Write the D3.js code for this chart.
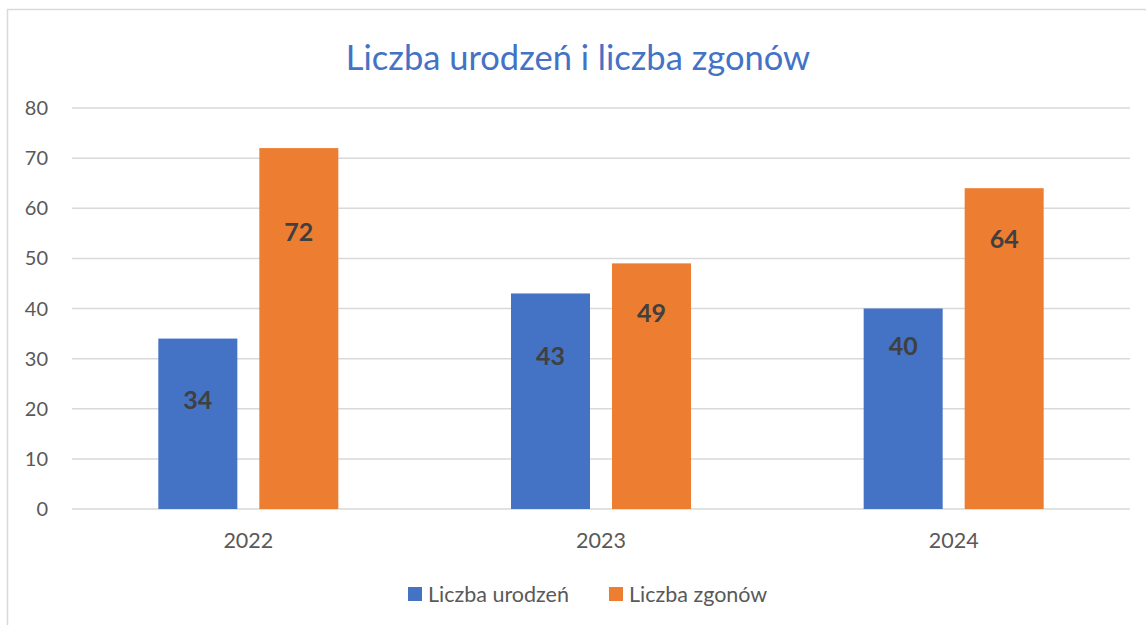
<html>
<head>
<meta charset="utf-8">
<script src="https://d3js.org/d3.v7.min.js"></script>
<style>
body { margin: 0; background: #fff; }
text { font-family: Lato, "Open Sans", sans-serif; }
</style>
</head>
<body>
<svg width="1146" height="625"></svg>
<script>
// chart data
var years = ["2022", "2023", "2024"];
var births = [34, 43, 40];
var deaths = [72, 49, 64];
// where the (hand-moved) data labels sit, in axis units
var birthsLabelAt = [21.6, 30.4, 32.4];
var deathsLabelAt = [55.3, 39.1, 53.8];
var seriesNames = ["Liczba urodzeń", "Liczba zgonów"];
var seriesColors = ["#4472C4", "#ED7D31"];
var yTicks = [0, 10, 20, 30, 40, 50, 60, 70, 80];

var svg = d3.select("svg");
var plotL = 72, plotR = 1130, plotT = 108, plotB = 509;

// outer frame (cut off on right and bottom)
svg.append("path")
   .attr("d", "M7.5,625 L7.5,9.5 L1146,9.5")
   .attr("fill", "none")
   .attr("stroke", "#d9d9d9")
   .attr("stroke-width", 1.5);

svg.append("text")
   .attr("x", 578).attr("y", 70)
   .attr("text-anchor", "middle")
   .style("font-size", "34.5px")
   .style("fill", "#4472C4")
   .text("Liczba urodzeń i liczba zgonów");

var x = d3.scaleBand().domain(years).range([plotL, plotR]);
var y = d3.scaleLinear().domain([0, 80]).range([plotB, plotT]);

// gridlines
svg.append("g").selectAll("line")
   .data(yTicks).enter().append("line")
   .attr("x1", plotL).attr("x2", plotR)
   .attr("y1", function(d) { return y(d); })
   .attr("y2", function(d) { return y(d); })
   .attr("stroke", "#d9d9d9")
   .attr("stroke-width", 1.5);

svg.append("g").selectAll("text")
   .data(yTicks).enter().append("text")
   .attr("x", 48)
   .attr("y", function(d) { return y(d); })
   .attr("dy", "0.35em")
   .attr("text-anchor", "end")
   .style("font-size", "20px")
   .style("fill", "#595959")
   .text(function(d) { return d; });

svg.append("g").selectAll("text")
   .data(years).enter().append("text")
   .attr("x", function(d) { return x(d) + x.bandwidth() / 2; })
   .attr("y", 548)
   .attr("text-anchor", "middle")
   .style("font-size", "21.5px")
   .style("fill", "#595959")
   .text(function(d) { return d; });

var barW = 79, gap = 22;
var series = [births, deaths];
var labelAt = [birthsLabelAt, deathsLabelAt];

series.forEach(function(vals, s) {
  var g = svg.append("g");
  var off = s == 0 ? -(gap / 2 + barW) : gap / 2;
  g.selectAll("rect")
   .data(vals).enter().append("rect")
   .attr("x", function(d, i) { return x(years[i]) + x.bandwidth() / 2 + off; })
   .attr("width", barW)
   .attr("y", function(d) { return y(d); })
   .attr("height", function(d) { return y(0) - y(d); })
   .attr("fill", seriesColors[s]);
  g.selectAll("text")
   .data(vals).enter().append("text")
   .attr("x", function(d, i) { return x(years[i]) + x.bandwidth() / 2 + off + barW / 2; })
   .attr("y", function(d, i) { return y(labelAt[s][i]); })
   .attr("dy", "0.35em")
   .attr("text-anchor", "middle")
   .style("font-size", "25px")
   .style("font-weight", "bold")
   .style("fill", "#404040")
   .text(function(d) { return d; });
});

// legend
var legX = [408, 609];
seriesNames.forEach(function(n, i) {
  svg.append("rect")
     .attr("x", legX[i]).attr("y", 587)
     .attr("width", 14).attr("height", 14)
     .attr("fill", seriesColors[i]);
  svg.append("text")
     .attr("x", legX[i] + 20).attr("y", 594)
     .attr("dy", "0.35em")
     .style("font-size", "21.5px")
     .style("fill", "#595959")
     .text(n);
});
</script>
</body>
</html>
